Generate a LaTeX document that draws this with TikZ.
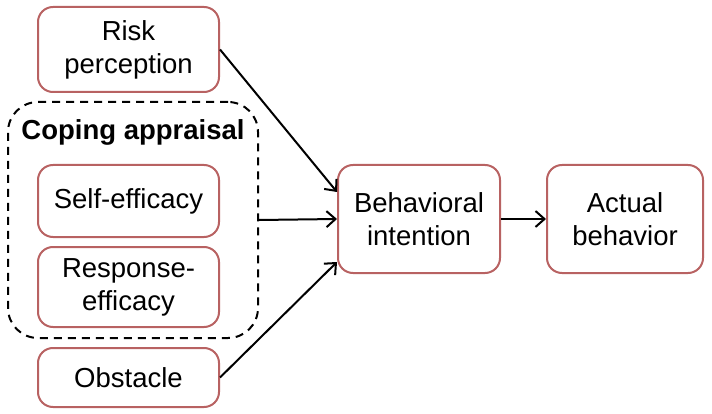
\documentclass[tikz,border=0pt]{standalone}
\usepackage{fontspec}
\setmainfont{Liberation Sans}
\usetikzlibrary{arrows.meta, positioning}

\definecolor{boxred}{RGB}{184,98,98}

\tikzset{
  factor/.style={draw=boxred, line width=2pt, rounded corners=15pt, align=center,
    inner sep=0pt, minimum width=181pt, font=\fontsize{27.5}{33}\selectfont},
  groupbox/.style={draw=black, line width=2pt, dash pattern=on 8pt off 6pt,
    rounded corners=30pt, inner sep=0pt},
  link/.style={line width=2pt, -{Straight Barb[length=9pt,width=16pt]}}
}

\begin{document}
\begin{tikzpicture}[x=1pt, y=-1pt]
  \useasboundingbox (0,0) rectangle (712,414);

  % Predictors
  \node[factor, minimum height=85pt] (risk) at (128.5,49.5) {Risk\\perception};
  \node[groupbox, minimum width=250pt, minimum height=236pt] (coping) at (133,220) {};
  \node[font=\bfseries\fontsize{27.5}{33}\selectfont] (copinglabel) at (133,132) {Coping appraisal};
  \node[factor, minimum height=72pt] (self) at (128.5,201) {Self-efficacy};
  \node[factor, minimum height=80pt] (resp) at (128.5,287) {Response-\\efficacy};
  \node[factor, minimum height=59pt] (obst) at (128.5,377.5) {Obstacle};

  % Outcomes
  \node[factor, minimum width=162pt, minimum height=108pt] (intent) at (419,219) {Behavioral\\intention};
  \node[factor, minimum width=156pt, minimum height=108pt] (actual) at (625,219) {Actual\\behavior};

  % Paths
  \draw[link] (risk.east) -- ([yshift=27pt]intent.west);
  \draw[link] (coping.east) -- (intent.west);
  \draw[link] (obst.east) -- ([yshift=-43pt]intent.west);
  \draw[link] (intent.east) -- (actual.west);
\end{tikzpicture}
\end{document}
